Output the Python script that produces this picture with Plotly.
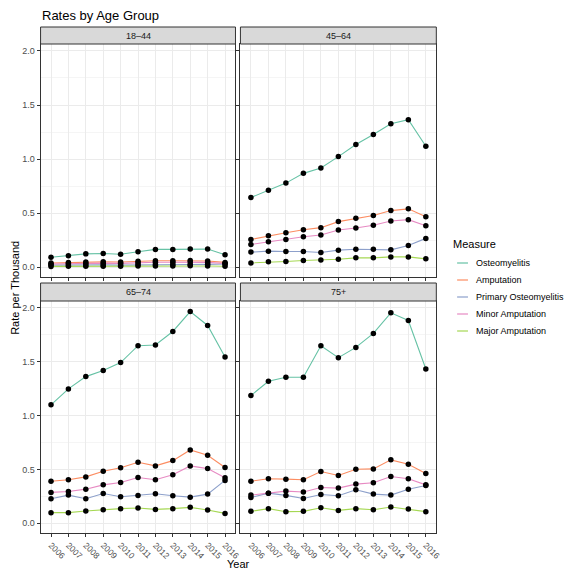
import plotly.graph_objects as go
from plotly.subplots import make_subplots

years = [2006, 2007, 2008, 2009, 2010, 2011, 2012, 2013, 2014, 2015, 2016]
year_labels = [str(y) for y in years]
age_groups = ["18\u201344", "45\u201364", "65\u201374", "75+"]
measures = ["Osteomyelitis", "Amputation", "Primary Osteomyelitis", "Minor Amputation", "Major Amputation"]
colors = ["#66C2A5", "#FC8D62", "#8DA0CB", "#E78AC3", "#A6D854"]

# 18-44
g1_osteo = [0.093, 0.106, 0.124, 0.127, 0.121, 0.143, 0.165, 0.165, 0.168, 0.168, 0.115]
g1_amp = [0.040, 0.045, 0.048, 0.050, 0.048, 0.055, 0.060, 0.060, 0.062, 0.058, 0.045]
g1_prim = [0.020, 0.022, 0.022, 0.022, 0.020, 0.023, 0.025, 0.025, 0.025, 0.027, 0.030]
g1_minor = [0.030, 0.035, 0.037, 0.038, 0.036, 0.042, 0.046, 0.046, 0.048, 0.045, 0.035]
g1_major = [0.008, 0.009, 0.010, 0.010, 0.010, 0.011, 0.012, 0.012, 0.013, 0.012, 0.010]

# 45-64
g2_osteo = [0.645, 0.713, 0.778, 0.868, 0.918, 1.023, 1.135, 1.228, 1.327, 1.364, 1.119]
g2_amp = [0.257, 0.291, 0.319, 0.347, 0.366, 0.422, 0.453, 0.478, 0.524, 0.540, 0.468]
g2_prim = [0.140, 0.149, 0.146, 0.146, 0.136, 0.158, 0.167, 0.167, 0.161, 0.202, 0.267]
g2_minor = [0.211, 0.236, 0.257, 0.282, 0.298, 0.344, 0.363, 0.388, 0.428, 0.440, 0.384]
g2_major = [0.040, 0.050, 0.053, 0.062, 0.068, 0.074, 0.087, 0.087, 0.096, 0.096, 0.078]

# 65-74
g3_osteo = [1.100, 1.248, 1.362, 1.418, 1.492, 1.649, 1.655, 1.781, 1.966, 1.837, 1.544]
g3_amp = [0.391, 0.404, 0.431, 0.484, 0.515, 0.567, 0.533, 0.582, 0.681, 0.632, 0.518]
g3_prim = [0.228, 0.262, 0.228, 0.277, 0.247, 0.259, 0.274, 0.256, 0.243, 0.271, 0.398]
g3_minor = [0.287, 0.296, 0.317, 0.357, 0.379, 0.425, 0.404, 0.450, 0.533, 0.508, 0.422]
g3_major = [0.099, 0.099, 0.114, 0.126, 0.136, 0.142, 0.129, 0.136, 0.148, 0.123, 0.092]

# 75+
g4_osteo = [1.186, 1.319, 1.356, 1.356, 1.649, 1.538, 1.633, 1.763, 1.954, 1.883, 1.433]
g4_amp = [0.391, 0.413, 0.410, 0.404, 0.481, 0.444, 0.502, 0.505, 0.589, 0.549, 0.462]
g4_prim = [0.240, 0.280, 0.259, 0.231, 0.268, 0.256, 0.311, 0.271, 0.262, 0.317, 0.351]
g4_minor = [0.262, 0.280, 0.299, 0.290, 0.333, 0.327, 0.364, 0.376, 0.435, 0.413, 0.357]
g4_major = [0.111, 0.136, 0.108, 0.111, 0.145, 0.120, 0.136, 0.126, 0.151, 0.133, 0.108]

data = [
    [g1_osteo, g1_amp, g1_prim, g1_minor, g1_major],
    [g2_osteo, g2_amp, g2_prim, g2_minor, g2_major],
    [g3_osteo, g3_amp, g3_prim, g3_minor, g3_major],
    [g4_osteo, g4_amp, g4_prim, g4_minor, g4_major],
]

W, H = 566, 569
FONT = "Liberation Sans, Arial, Helvetica, sans-serif"


def px(x):
    return x / W


def py(y):
    return 1 - y / H


fig = make_subplots(rows=2, cols=2)
positions = [(1, 1), (1, 2), (2, 1), (2, 2)]

for gi, (r, c) in enumerate(positions):
    series = data[gi]
    for mi, vals in enumerate(series):
        fig.add_trace(go.Scatter(x=years, y=vals, mode="lines",
                                 line=dict(color=colors[mi], width=1.1),
                                 showlegend=False, hoverinfo="skip"), row=r, col=c)
    for mi, vals in enumerate(series):
        fig.add_trace(go.Scatter(x=years, y=vals, mode="markers",
                                 marker=dict(color="black", size=5.5),
                                 showlegend=False, name=measures[mi]), row=r, col=c)

xdom = {1: [px(41), px(238)], 2: [px(243), px(441)]}
ydom = {1: [py(277), py(44)], 2: [py(533), py(301)]}

for gi, (r, c) in enumerate(positions):
    idx = gi + 1
    xa = "xaxis" if idx == 1 else f"xaxis{idx}"
    ya = "yaxis" if idx == 1 else f"yaxis{idx}"
    fig.layout[xa].update(
        domain=xdom[c], range=[2005.4, 2016.6], tickmode="array",
        tickvals=years, ticktext=year_labels, showticklabels=(r == 2),
        tickangle=45, ticks="outside", ticklen=3, tickcolor="#333333",
        tickfont=dict(family=FONT, size=8.5, color="#4D4D4D"),
        showgrid=True, gridcolor="#EBEBEB", gridwidth=1,
        showline=True, mirror=True, linecolor="#333333", linewidth=1,
        zeroline=False, fixedrange=True,
    )
    fig.layout[ya].update(
        domain=ydom[r], range=[-0.09, 2.064], tickmode="array",
        tickvals=[0, 0.5, 1.0, 1.5, 2.0], ticktext=["0.0", "0.5", "1.0", "1.5", "2.0"],
        showticklabels=(c == 1), ticks="outside", ticklen=3, tickcolor="#333333",
        tickfont=dict(family=FONT, size=9, color="#4D4D4D"),
        showgrid=True, gridcolor="#EBEBEB", gridwidth=1,
        minor=dict(tickvals=[0.25, 0.75, 1.25, 1.75], showgrid=True,
                   gridcolor="#F5F5F5", gridwidth=0.8),
        showline=True, mirror=True, linecolor="#333333", linewidth=1,
        zeroline=False, fixedrange=True,
    )

shapes = []
annotations = []

# strips
strip_y = {1: (27, 44), 2: (283, 301)}
strip_x = {1: (41, 238), 2: (243, 441)}
for gi, (r, c) in enumerate(positions):
    x0, x1 = strip_x[c]
    y0, y1 = strip_y[r]
    shapes.append(dict(type="rect", xref="paper", yref="paper",
                       x0=px(x0), x1=px(x1), y0=py(y1), y1=py(y0),
                       fillcolor="#D9D9D9", line=dict(color="#333333", width=1),
                       layer="above"))
    annotations.append(dict(text=age_groups[gi], xref="paper", yref="paper",
                            x=px((x0 + x1) / 2), y=py((y0 + y1) / 2),
                            xanchor="center", yanchor="middle", showarrow=False,
                            font=dict(family=FONT, size=9, color="#1A1A1A")))

# title and axis titles
annotations.append(dict(text="Rates by Age Group", xref="paper", yref="paper",
                        x=px(40), y=py(15), xanchor="left", yanchor="middle",
                        showarrow=False, font=dict(family=FONT, size=13, color="black")))
annotations.append(dict(text="Rate per Thousand", xref="paper", yref="paper",
                        x=px(15), y=py(288), xanchor="center", yanchor="middle",
                        textangle=-90, showarrow=False,
                        font=dict(family=FONT, size=11, color="black")))
annotations.append(dict(text="Year", xref="paper", yref="paper",
                        x=px(241), y=0, xanchor="center", yanchor="bottom", yshift=-3,
                        showarrow=False, font=dict(family=FONT, size=11, color="black")))

# legend (manual)
annotations.append(dict(text="Measure", xref="paper", yref="paper",
                        x=px(456), y=py(244), xanchor="left", yanchor="middle",
                        showarrow=False, font=dict(family=FONT, size=11, color="black")))
for mi, m in enumerate(measures):
    yy = 263 + 17 * mi
    shapes.append(dict(type="line", xref="paper", yref="paper",
                       x0=px(462), x1=px(473), y0=py(yy), y1=py(yy),
                       line=dict(color=colors[mi], width=1.2)))
    annotations.append(dict(text=m, xref="paper", yref="paper",
                            x=px(479), y=py(yy), xanchor="left", yanchor="middle",
                            showarrow=False, font=dict(family=FONT, size=9, color="black")))

fig.update_layout(
    width=W, height=H, margin=dict(l=0, r=0, t=0, b=0),
    paper_bgcolor="white", plot_bgcolor="white",
    showlegend=False, shapes=shapes, annotations=annotations,
    font=dict(family=FONT),
)

fig.write_html("out.html", config={"displayModeBar": False},
               post_script="document.body.style.margin='0px';document.body.style.overflow='hidden';")
